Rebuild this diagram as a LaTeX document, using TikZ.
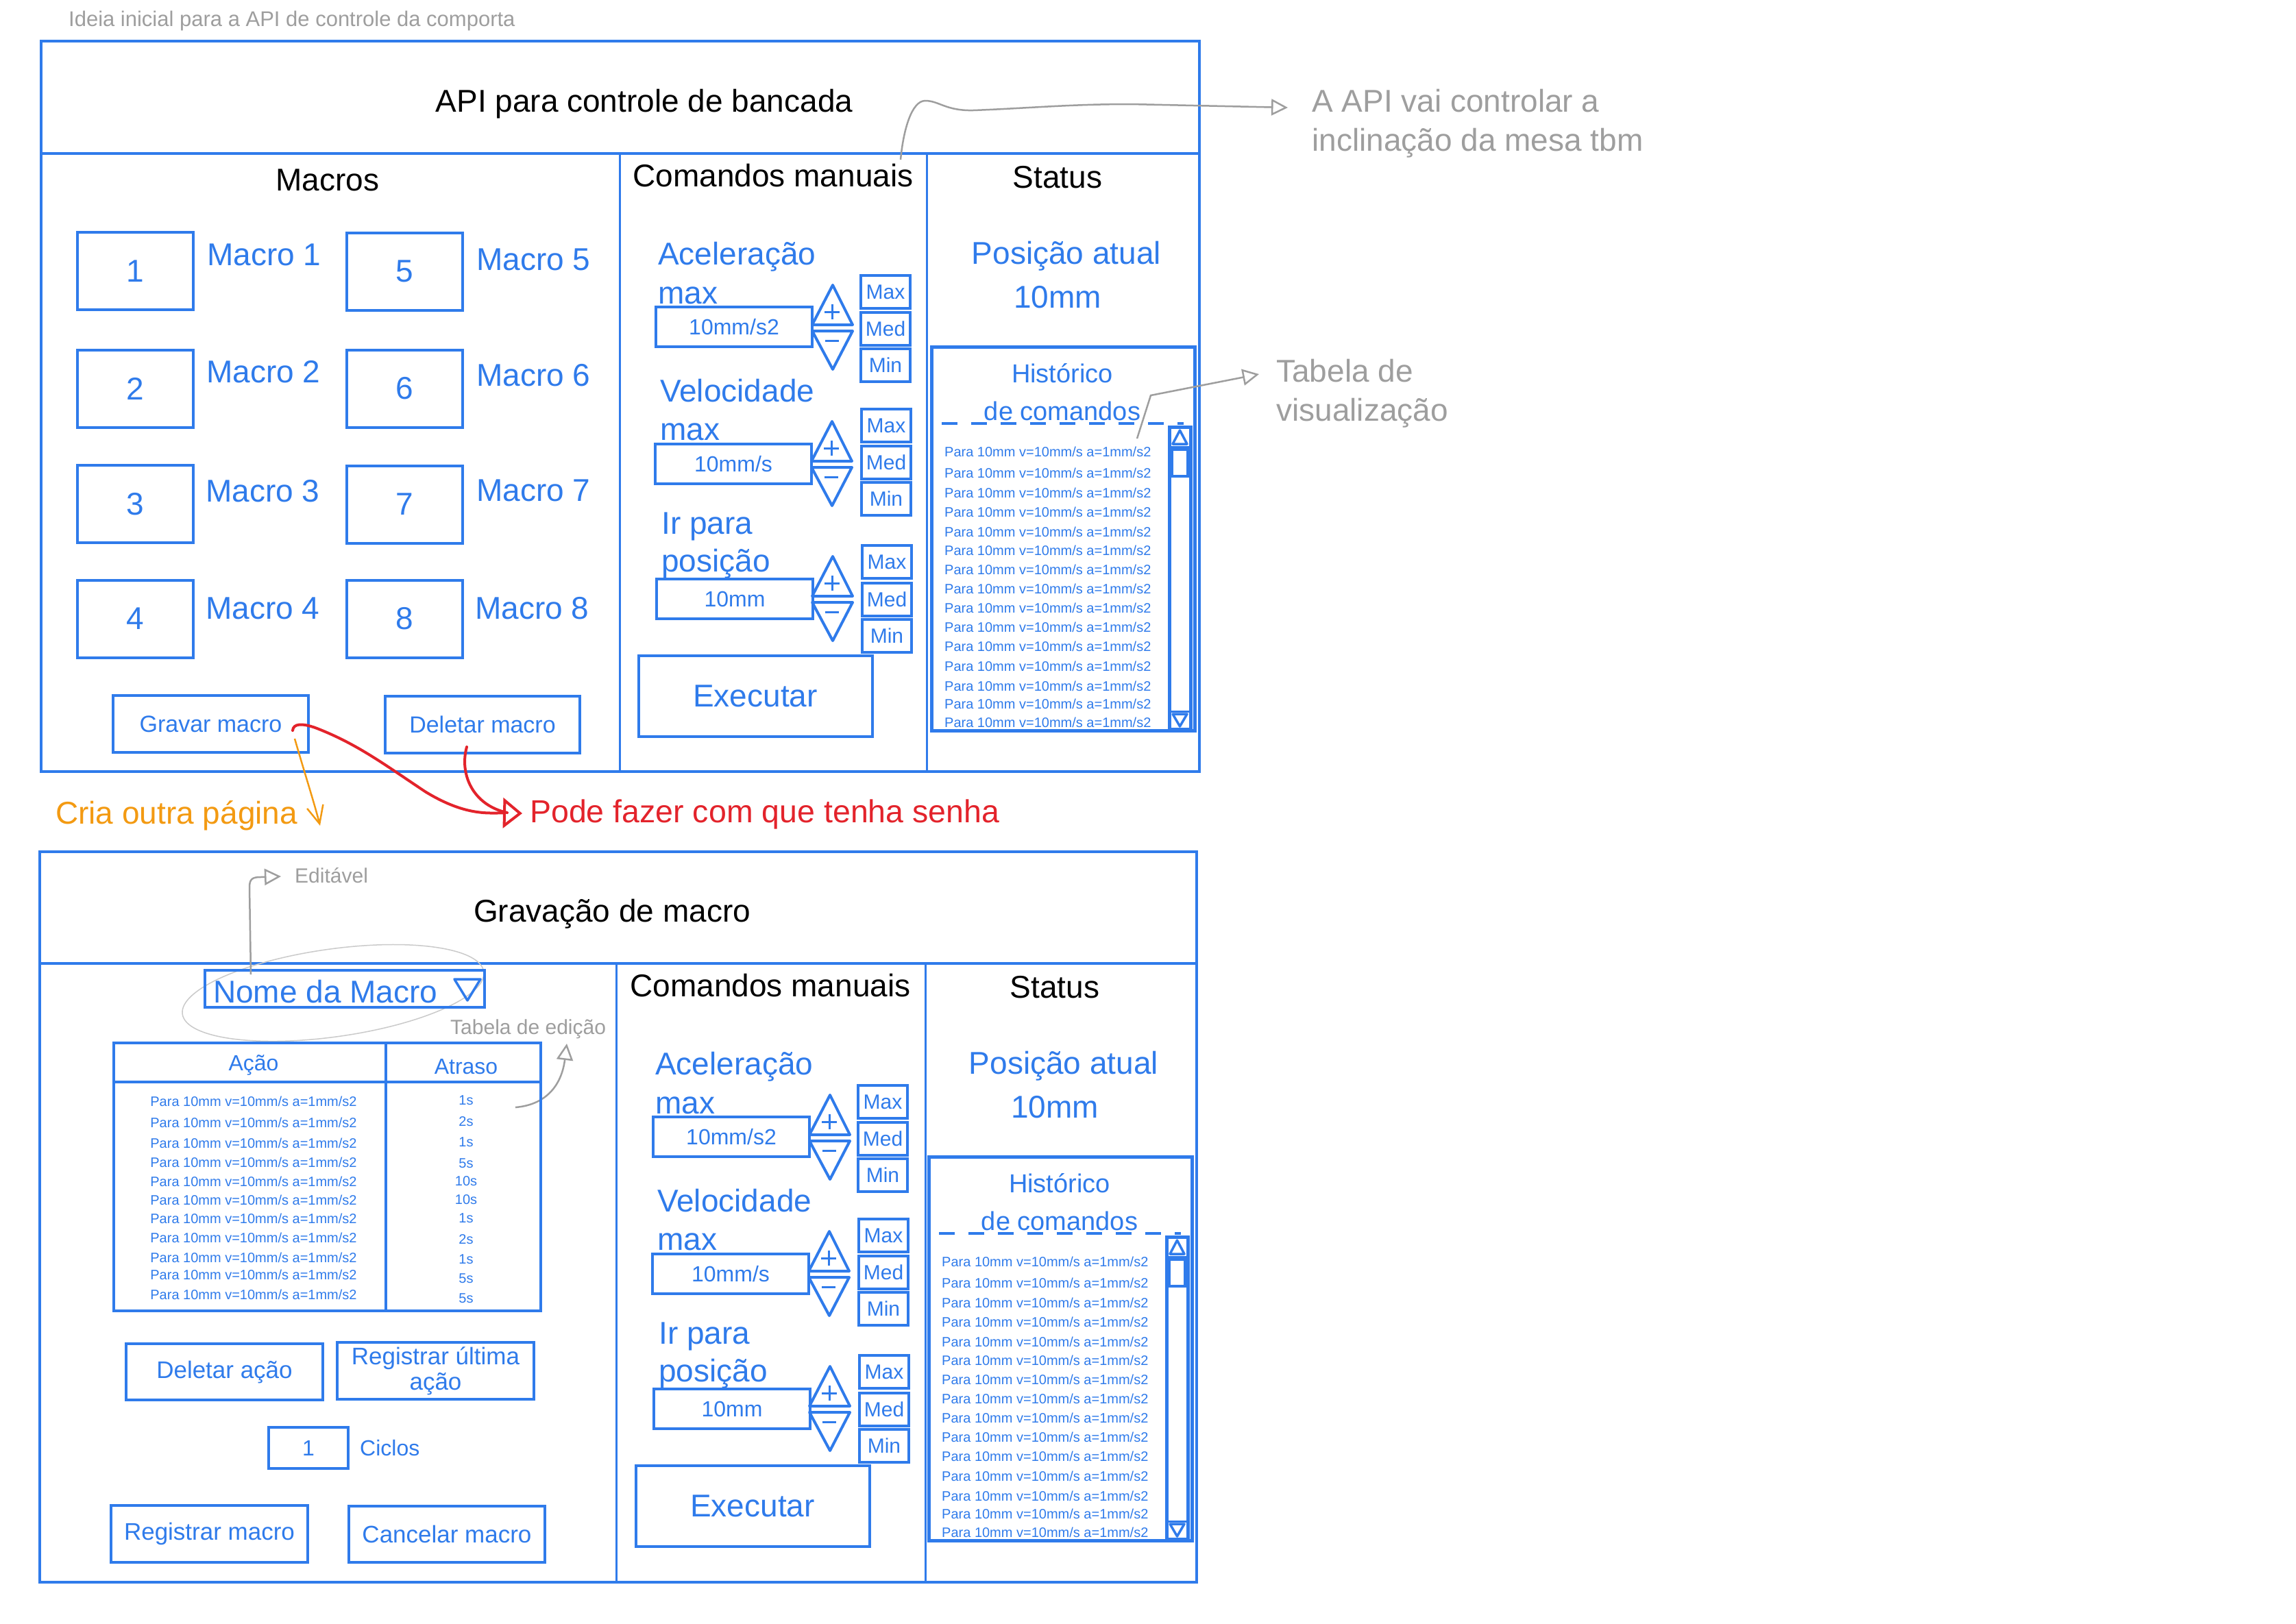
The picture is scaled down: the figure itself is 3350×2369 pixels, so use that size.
\documentclass[tikz,border=0pt]{standalone}
\usepackage{fontspec}
\setmainfont{Liberation Sans}
\usetikzlibrary{arrows.meta,shapes.geometric}
\definecolor{ublue}{HTML}{2F7BEB}
\definecolor{ugray}{HTML}{9E9E9E}
\definecolor{ured}{HTML}{E3232B}
\definecolor{uorange}{HTML}{F39A12}
\newcommand{\myfs}[2]{\fontsize{#1}{#2}\selectfont}
\tikzset{
  bl/.style={draw=ublue, line width=4pt},
  frame/.style={draw=ublue, line width=4.5pt, inner sep=0pt},
  bbox/.style={draw=ublue, line width=4pt, inner sep=0pt, text=ublue},
  hdr/.style={font=\myfs{46}{55}, text=black, inner sep=0pt},
  bigb/.style={font=\myfs{46}{55}, text=ublue, inner sep=0pt},
  btxt/.style={text=ublue, inner sep=0pt},
  gtxt/.style={text=ugray, inner sep=0pt},
  mac/.style={bbox, minimum width=169pt, minimum height=113pt, font=\myfs{46}{55}},
  inbox/.style={bbox, minimum width=228pt, minimum height=58pt, font=\myfs{32}{38}},
  mbox/.style={bbox, minimum width=72pt, minimum height=48pt, font=\myfs{30}{36}},
  btn/.style={bbox, minimum width=285pt, minimum height=83pt, font=\myfs{34}{40}},
  garrow/.style={draw=ugray, line width=2.5pt, -{Triangle[open,length=24pt,width=24pt]}},
  rline/.style={draw=ured, line width=4pt, line cap=round},
}
\newcommand{\spinner}[2]{%
  \draw[bl, line join=round] (#1,#2) -- (#1+59,#2) -- (#1+30,#2-58) -- cycle;
  \draw[bl, line join=round] (#1,#2+9) -- (#1+59,#2+9) -- (#1+30,#2+65) -- cycle;
  \draw[bl, line width=3pt] (#1+18,#2-19) -- (#1+40,#2-19) (#1+29,#2-30) -- (#1+29,#2-8);
  \draw[bl, line width=3pt] (#1+19,#2+23) -- (#1+39,#2+23);
}
\newcommand{\manualcol}[1]{%
  \node[bigb, anchor=base west] (#1accA) at (960,386) {Aceleração};
  \node[bigb, anchor=base west] (#1accB) at (960,443) {max};
  \node[inbox] (#1accIn) at (1071,477) {10mm/s2};
  \spinner{1185}{474}
  \node[mbox] (#1accMax) at (1292,426) {Max};
  \node[mbox] (#1accMed) at (1292,480) {Med};
  \node[mbox] (#1accMin) at (1292,533) {Min};
  \node[bigb, anchor=base west] (#1velA) at (963,586) {Velocidade};
  \node[bigb, anchor=base west] (#1velB) at (963,642) {max};
  \node[inbox] (#1velIn) at (1070,677) {10mm/s};
  \spinner{1184}{673}
  \node[mbox] (#1velMax) at (1293,621) {Max};
  \node[mbox] (#1velMed) at (1293,675) {Med};
  \node[mbox] (#1velMin) at (1293,728) {Min};
  \node[bigb, anchor=base west] (#1posA) at (965,779) {Ir para};
  \node[bigb, anchor=base west] (#1posB) at (965,834) {posição};
  \node[inbox] (#1posIn) at (1072,874) {10mm};
  \spinner{1185}{870}
  \node[mbox] (#1posMax) at (1294,820) {Max};
  \node[mbox] (#1posMed) at (1294,875) {Med};
  \node[mbox] (#1posMin) at (1294,928) {Min};
  \node[bbox, minimum width=341pt, minimum height=118pt, font=\myfs{46}{55}] (#1exec) at (1102,1016) {Executar};
}
\newcommand{\statuscol}[1]{%
  \node[bigb] (#1posat) at (1556,374) {Posição atual};
  \node[bigb] (#1posv) at (1543,434) {10mm};
  \node[bbox, line width=5pt, minimum width=384pt, minimum height=560pt] (#1hist) at (1551,786) {};
  \node[btxt, font=\myfs{38}{46}] (#1histA) at (1550,545) {Histórico};
  \node[btxt, font=\myfs{38}{46}] (#1histB) at (1550,600) {de comandos};
  \draw[bl, dash pattern=on 23pt off 20pt] (1374,618) -- (1727,618);
  \node[bbox, line width=5pt, minimum width=31pt, minimum height=441pt] (#1sb) at (1721.5,843.5) {};
  \draw[bl, line width=3.5pt, line join=round] (1711,648) -- (1732,648) -- (1721.5,628) -- cycle;
  \draw[bl, line width=3pt] (1707,652) -- (1736,652);
  \node[bbox, line width=4pt, minimum width=23pt, minimum height=39pt] (#1thumb) at (1721.5,675.5) {};
  \draw[bl, line width=3pt] (1707,1038) -- (1736,1038);
  \draw[bl, line width=3.5pt, line join=round] (1711,1042) -- (1732,1042) -- (1721.5,1060) -- cycle;
  \foreach \yy [count=\k] in {659,690,719,747,776,803,831,859,887,915,943,972,1001,1027,1054}
    \node[btxt, font=\myfs{20}{24}, anchor=west] (#1l\k) at (1378,\yy) {Para 10mm v=10mm/s a=1mm/s2};
}
\begin{document}
\begin{tikzpicture}[x=1pt,y=-1pt]
\useasboundingbox (0,0) rectangle (3350,2369);
\fill[white] (0,0) rectangle (3350,2369);

\node[gtxt, font=\myfs{31}{37}, anchor=west] (note0) at (100,30) {Ideia inicial para a API de controle da comporta};

% ===== Page 1 =====
\node[frame, minimum width=1690pt, minimum height=1066pt] (page1) at (905,593) {};
\draw[bl] (60,224) -- (1750,224);
\draw[bl, line width=3pt] (904,224) -- (904,1126);
\draw[bl, line width=3pt] (1352,224) -- (1352,1126);
\node[hdr] (title1) at (940,152) {API para controle de bancada};
\node[hdr] (macros) at (478,263) {Macros};
\node[hdr] (cm1) at (1128,256) {Comandos manuais};
\node[hdr] (st1) at (1543,259) {Status};

\node[mac] (b1) at (197.5,395.5) {1};
\node[mac] (b2) at (197.5,567.5) {2};
\node[mac] (b3) at (197.5,735.5) {3};
\node[mac] (b4) at (197.5,903) {4};
\node[mac] (b5) at (590,396) {5};
\node[mac] (b6) at (590,567) {6};
\node[mac] (b7) at (590,736) {7};
\node[mac] (b8) at (590,903) {8};
\node[bigb, anchor=west] (m1) at (302,372) {Macro 1};
\node[bigb, anchor=west] (m2) at (301,543) {Macro 2};
\node[bigb, anchor=west] (m3) at (300,717) {Macro 3};
\node[bigb, anchor=west] (m4) at (300,888) {Macro 4};
\node[bigb, anchor=west] (m5) at (695,379) {Macro 5};
\node[bigb, anchor=west] (m6) at (695,548) {Macro 6};
\node[bigb, anchor=west] (m7) at (695,716) {Macro 7};
\node[bigb, anchor=west] (m8) at (693,888) {Macro 8};
\node[btn] (gravar) at (307.5,1056.5) {Gravar macro};
\node[btn, minimum width=284pt] (deletar) at (704,1057.5) {Deletar macro};

\manualcol{pA}
\statuscol{pA}

% annotations page 1
\coordinate (a1s) at (1314,233);
\coordinate (a1e) at (1879,157);
\draw[garrow] (a1s) .. controls (1318,190) and (1330,147) .. (1350,147) .. controls (1370,147) and (1380,162) .. (1420,161) .. controls (1500,158) and (1560,152) .. (1650,152) -- (a1e);
\node[gtxt, font=\myfs{46}{55}, anchor=base west] (ann1a) at (1914,163) {A API vai controlar a};
\node[gtxt, font=\myfs{46}{55}, anchor=base west] (ann1b) at (1914,220) {inclinação da mesa tbm};
\coordinate (a2s) at (1659,640);
\coordinate (a2e) at (1837,546);
\draw[garrow] (a2s) -- (1679,577) -- (a2e);
\node[gtxt, font=\myfs{46}{55}, anchor=base west] (ann2a) at (1862,557) {Tabela de};
\node[gtxt, font=\myfs{46}{55}, anchor=base west] (ann2b) at (1862,614) {visualização};

% red and orange
\coordinate (rs) at (427,1066);
\coordinate (rt) at (762,1187);
\draw[rline, -{Triangle[open,length=28pt,width=44pt]}] (rs) .. controls (428,1056) and (440,1055) .. (460,1062) .. controls (520,1085) and (560,1115) .. (620,1155) .. controls (680,1192) and (715,1186) .. (rt);
\coordinate (ds) at (681,1090);
\coordinate (de) at (740,1186);
\draw[rline] (ds) .. controls (670,1130) and (690,1175) .. (de);
\node[text=ured, font=\myfs{46.5}{55}, anchor=base west, inner sep=0pt] (senha) at (773,1200) {Pode fazer com que tenha senha};
\coordinate (os) at (430,1078);
\coordinate (oe) at (467,1205);
\draw[uorange, line width=2.5pt, -{Straight Barb[length=26pt,width=24pt]}] (os) .. controls (445,1130) and (458,1170) .. (oe);
\node[text=uorange, font=\myfs{46}{55}, anchor=base west, inner sep=0pt] (cria) at (81,1202) {Cria outra página};

% ===== Page 2 =====
\node[frame, minimum width=1688pt, minimum height=1066pt] (page2) at (902,1776) {};
\draw[bl] (58,1406) -- (1746,1406);
\draw[bl, line width=3pt] (899,1406) -- (899,2309);
\draw[bl, line width=3pt] (1350,1406) -- (1350,2309);
\node[hdr] (title2) at (893,1334) {Gravação de macro};
\begin{scope}[shift={(-4,1182)}]
  \node[hdr] (cm2) at (1128,256) {Comandos manuais};
  \node[hdr] (st2) at (1543,259) {Status};
  \manualcol{pB}
  \statuscol{pB}
\end{scope}

\draw[ugray!55, line width=1.5pt, rotate around={8:(486,1449)}] (486,1449) ellipse [x radius=222, y radius=64];
\node[bbox, minimum width=408pt, minimum height=54pt] (nome) at (503,1443) {};
\node[btxt, font=\myfs{46}{55}, anchor=base west] (nomet) at (311,1463) {Nome da Macro};
\draw[bl, line width=3.5pt, line join=round] (663,1429) -- (701,1429) -- (682,1460) -- cycle;
\coordinate (es) at (366,1422);
\coordinate (ee) at (410,1279);
\draw[garrow] (es) -- (364,1295) .. controls (364,1283) and (368,1280) .. (380,1280) -- (ee);
\node[gtxt, font=\myfs{30}{36}, anchor=west] (edit) at (430,1278) {Editável};
\node[gtxt, font=\myfs{30}{36}, anchor=west] (tabed) at (657,1502) {Tabela de edição};
\coordinate (ts) at (752,1616);
\coordinate (te) at (827,1523);
\draw[garrow] (ts) .. controls (800,1612) and (820,1580) .. (te);

\node[bbox, minimum width=623pt, minimum height=391pt] (tab) at (477.5,1717.5) {};
\draw[bl] (563,1522) -- (563,1913);
\draw[bl] (166,1579) -- (789,1579);
\node[btxt, font=\myfs{32}{38}] (acao) at (370,1554) {Ação};
\node[btxt, font=\myfs{32}{38}] (atraso) at (680,1557) {Atraso};
\foreach \yy [count=\k] in {1607,1638,1668,1696,1724,1751,1778,1806,1835,1860,1889}
  \node[btxt, font=\myfs{20}{24}] (row\k) at (370,\yy) {Para 10mm v=10mm/s a=1mm/s2};
\foreach \yy/\vv [count=\k] in {1606/1s,1637/2s,1667/1s,1698/5s,1724/10s,1751/10s,1778/1s,1809/2s,1838/1s,1866/5s,1895/5s}
  \node[btxt, font=\myfs{20}{24}] (val\k) at (680,\yy) {\vv};

\node[btn, minimum width=287pt, minimum height=82pt, font=\myfs{35}{40}] (delacao) at (327.5,2002) {Deletar ação};
\node[btn, minimum width=287pt, align=center, font=\myfs{35}{37}] (reglast) at (635.5,2000.5) {Registrar última\\ação};
\node[bbox, minimum width=116pt, minimum height=60pt, font=\myfs{32}{38}] (ciclo) at (450,2113) {1};
\node[btxt, font=\myfs{32}{38}, anchor=west] (ciclos) at (525,2113) {Ciclos};
\node[btn, minimum width=287pt, font=\myfs{35}{40}] (regmac) at (305.5,2238) {Registrar macro};
\node[btn, minimum width=286pt, minimum height=82pt, font=\myfs{35}{40}] (canmac) at (652,2239) {Cancelar macro};
\end{tikzpicture}
\end{document}
